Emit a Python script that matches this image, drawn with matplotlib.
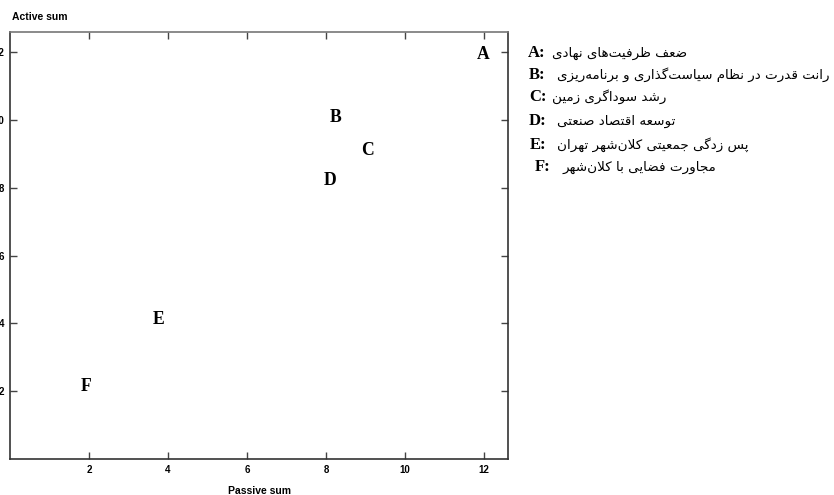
import matplotlib
matplotlib.use('Agg')
import matplotlib.pyplot as plt

# factor positions (passive sum, active sum)
names = ['A', 'B', 'C', 'D', 'E', 'F']
passive = [11.97, 8.25, 9.05, 8.1, 3.77, 1.92]
active = [11.95, 10.08, 9.09, 8.22, 4.11, 2.13]
ticks = [2, 4, 6, 8, 10, 12]
descr = ['ضعف ظرفیت‌های نهادی',
         'رانت قدرت در نظام سیاست‌گذاری و برنامه‌ریزی',
         'رشد سوداگری زمین',
         'توسعه اقتصاد صنعتی',
         'پس زدگی جمعیتی کلان‌شهر تهران',
         'مجاورت فضایی با کلان‌شهر']

# minimal arabic/persian shaping (matplotlib does no shaping / bidi)
forms = {
    'ا': (0xFE8D, 0xFE8E, None, None), 'ب': (0xFE8F, 0xFE90, 0xFE91, 0xFE92),
    'ت': (0xFE95, 0xFE96, 0xFE97, 0xFE98), 'ث': (0xFE99, 0xFE9A, 0xFE9B, 0xFE9C),
    'ج': (0xFE9D, 0xFE9E, 0xFE9F, 0xFEA0), 'ح': (0xFEA1, 0xFEA2, 0xFEA3, 0xFEA4),
    'خ': (0xFEA5, 0xFEA6, 0xFEA7, 0xFEA8), 'د': (0xFEA9, 0xFEAA, None, None),
    'ذ': (0xFEAB, 0xFEAC, None, None), 'ر': (0xFEAD, 0xFEAE, None, None),
    'ز': (0xFEAF, 0xFEB0, None, None), 'س': (0xFEB1, 0xFEB2, 0xFEB3, 0xFEB4),
    'ش': (0xFEB5, 0xFEB6, 0xFEB7, 0xFEB8), 'ص': (0xFEB9, 0xFEBA, 0xFEBB, 0xFEBC),
    'ض': (0xFEBD, 0xFEBE, 0xFEBF, 0xFEC0), 'ط': (0xFEC1, 0xFEC2, 0xFEC3, 0xFEC4),
    'ظ': (0xFEC5, 0xFEC6, 0xFEC7, 0xFEC8), 'ع': (0xFEC9, 0xFECA, 0xFECB, 0xFECC),
    'غ': (0xFECD, 0xFECE, 0xFECF, 0xFED0), 'ف': (0xFED1, 0xFED2, 0xFED3, 0xFED4),
    'ق': (0xFED5, 0xFED6, 0xFED7, 0xFED8), 'ل': (0xFEDD, 0xFEDE, 0xFEDF, 0xFEE0),
    'م': (0xFEE1, 0xFEE2, 0xFEE3, 0xFEE4), 'ن': (0xFEE5, 0xFEE6, 0xFEE7, 0xFEE8),
    'ه': (0xFEE9, 0xFEEA, 0xFEEB, 0xFEEC), 'و': (0xFEED, 0xFEEE, None, None),
    'پ': (0xFB56, 0xFB57, 0xFB58, 0xFB59), 'چ': (0xFB7A, 0xFB7B, 0xFB7C, 0xFB7D),
    'ژ': (0xFB8A, 0xFB8B, None, None), 'ک': (0xFB8E, 0xFB8F, 0xFB90, 0xFB91),
    'گ': (0xFB92, 0xFB93, 0xFB94, 0xFB95), 'ی': (0xFBFC, 0xFBFD, 0xFBFE, 0xFBFF),
    'LA': (0xFEFB, 0xFEFC, None, None),
}

def shape(s):
    chars = []
    i = 0
    while i < len(s):
        if s[i] == 'ل' and i + 1 < len(s) and s[i + 1] == 'ا':
            chars.append('LA')
            i += 2
        else:
            chars.append(s[i])
            i += 1
    out = []
    for k, c in enumerate(chars):
        if c not in forms:
            if c != '\u200c':
                out.append(c)
            continue
        prev = chars[k - 1] if k > 0 else None
        nxt = chars[k + 1] if k + 1 < len(chars) else None
        jp = prev in forms and forms[prev][2] is not None
        jn = forms[c][2] is not None and nxt in forms
        f = forms[c]
        if jp and jn:
            code = f[3]
        elif jp:
            code = f[1]
        elif jn:
            code = f[2]
        else:
            code = f[0]
        out.append(chr(code))
    return ''.join(out[::-1])

fig = plt.figure(figsize=(8.34, 4.95), dpi=100)
ax = fig.add_axes([10/834, 36/495, 498/834, 427/495])

for n, x, y in zip(names, passive, active):
    ax.text(x, y, n, ha='center', va='center', fontsize=12.7,
            fontweight='bold', family='Liberation Serif')

ax.set_xlim(0, 12.6)
ax.set_ylim(0, 12.6)
ax.set_xticks(ticks)
ax.set_yticks(ticks)
ax.tick_params(direction='in', length=5, width=1, top=True, right=True,
               labelsize=7, color='#444', pad=4)
for lab in ax.get_xticklabels() + ax.get_yticklabels():
    lab.set_fontweight('bold')
    lab.set_family('Liberation Sans')
for s in ax.spines.values():
    s.set_color('#333')
    s.set_linewidth(1.2)
ax.spines['top'].set_color('#777')

fig.text(12/834, 1 - 17/495, 'Active sum', ha='left', va='center',
         fontsize=7.5, fontweight='bold', family='Liberation Sans')
fig.text(259/834, 1 - 491/495, 'Passive sum', ha='center', va='center',
         fontsize=7.5, fontweight='bold', family='Liberation Sans')

lx = [528, 529, 529, 529, 530, 535]
tx = [552, 557, 552, 557, 557, 563]
ly = [53, 75, 97, 121, 145, 167]
for n, d, a, b, y in zip(names, descr, lx, tx, ly):
    fig.text(a/834, 1 - y/495, n + ':', ha='left', va='center', fontsize=12,
             fontweight='bold', family='Liberation Serif')
    fig.text(b/834, 1 - y/495, shape(d), ha='left', va='center', fontsize=9.7,
             family='DejaVu Sans')

fig.savefig('out.png', dpi=100)
